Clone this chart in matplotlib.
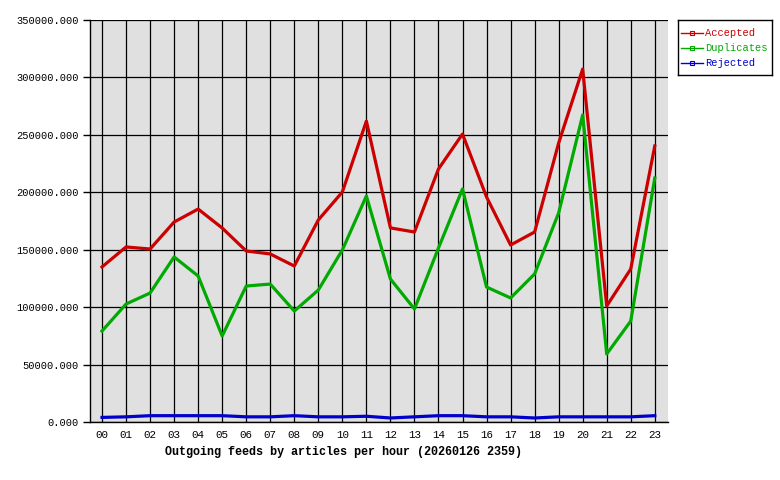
import numpy as np
import matplotlib
matplotlib.use('Agg')
import matplotlib.pyplot as plt

hours = ['%02d' % h for h in range(24)]
accepted = [135000, 152400, 150600, 174100, 185400, 168900, 148900, 146300,
            135800, 175900, 200250, 262000, 169000, 165400, 220300, 250700,
            195900, 154100, 165400, 242900, 307300, 101000, 133200, 240300]
duplicates = [79200, 102700, 112300, 143700, 127100, 74900, 118400, 120100,
              96600, 114900, 149800, 196800, 124500, 98400, 151500, 202900,
              117500, 108000, 128900, 182000, 267300, 59200, 87900, 212400]
rejected = [4000, 4500, 5500, 5500, 5500, 5500, 4500, 4500, 5500, 4500, 4500, 5000,
            3500, 4500, 5500, 5500, 4500, 4500, 3500, 4500, 4500, 4500, 4500, 5500]
yticks = [0, 50000, 100000, 150000, 200000, 250000, 300000, 350000]

plt.rcParams['font.family'] = ['Liberation Mono', 'DejaVu Sans Mono']

fig = plt.figure(figsize=(7.8, 4.8), dpi=100)
ax = fig.add_axes([90/780, 58/480, 578/780, 402/480])
ax.set_facecolor('#e0e0e0')

x = np.arange(len(hours))
ax.plot(x, accepted, color='#cc0000', lw=2.3, label='Accepted', zorder=3)
ax.plot(x, duplicates, color='#00aa00', lw=2.3, label='Duplicates', zorder=3)
ax.plot(x, rejected, color='#0000cc', lw=2.3, label='Rejected', zorder=3)

ax.set_xlim(-0.5, 23.55)
ax.set_ylim(0, 350000)
ax.set_xticks(x)
ax.set_xticklabels(hours)
ax.set_yticks(yticks)
ax.set_yticklabels(['%.3f' % v for v in yticks])
ax.tick_params(axis='x', length=0, pad=6, labelsize=7.8)
ax.tick_params(axis='y', length=5, width=1, labelsize=7.5, color='black', pad=3)
ax.grid(True, color='black', lw=0.9)
ax.set_axisbelow(True)
for s in ['top', 'right']:
    ax.spines[s].set_visible(False)
for s in ['left', 'bottom']:
    ax.spines[s].set_linewidth(1)

fig.text(165/780, 1 - 452/480, 'Outgoing feeds by articles per hour (20260126 2359)',
         fontsize=8.5, fontweight='bold', ha='left', va='center')

# legend box drawn by hand so it sits outside the axes like the original
names = ['Accepted', 'Duplicates', 'Rejected']
cols = ['#cc0000', '#00aa00', '#0000cc']
lax = fig.add_axes([678/780, 1 - 75/480, 94/780, 55/480])
lax.set_xlim(0, 94)
lax.set_ylim(55, 0)
lax.set_xticks([])
lax.set_yticks([])
for s in lax.spines.values():
    s.set_linewidth(1)
for i, (n, c) in enumerate(zip(names, cols)):
    yy = 13 + i * 15
    lax.plot([3, 25], [yy, yy], color=c, lw=1)
    lax.plot([14], [yy], marker='s', ms=3, mfc='none', mec=c, mew=0.8)
    lax.text(27, yy, n, color=c, fontsize=7.5, va='center', ha='left')

fig.savefig('out.png', dpi=100)
